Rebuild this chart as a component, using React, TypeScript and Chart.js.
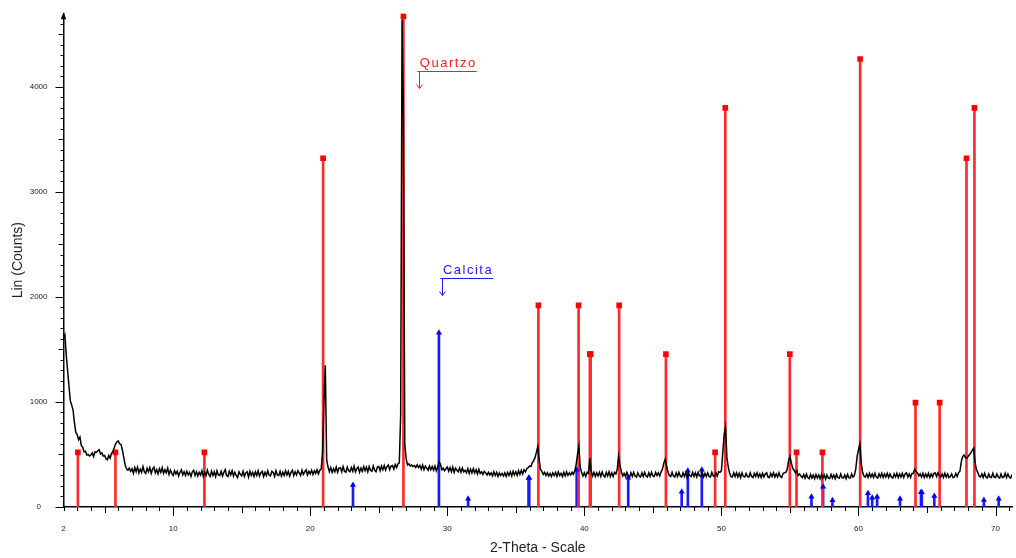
import { useEffect, useRef } from 'react';
import { Chart, registerables } from 'chart.js';

Chart.register(...registerables);

const scanStart = 2.0;
const scanStep = 0.1;

const counts02 = [
  1610, 1640, 1450, 1300, 1150, 1010, 970, 920, 800, 710,
  690, 640, 665, 585, 570, 525, 530, 495, 500, 485,
  495, 515, 480, 525, 520, 535, 545, 505, 515, 485,
  490, 460, 450, 490, 465, 510, 525, 565, 600, 620,
  630, 600, 595, 540, 470, 400, 365, 350, 370, 340,
  365, 320, 375, 335, 380, 325, 360, 330, 385, 335,
  320, 370, 335, 375, 320, 360, 380, 325, 355, 315,
  365, 330, 375, 320, 355, 325, 370, 310, 350, 320,
];
const counts10 = [
  300, 345, 315, 340, 295, 330, 355, 305, 335, 300,
  340, 305, 330, 290, 335, 350, 300, 335, 295, 330,
  305, 345, 290, 330, 300, 350, 310, 290, 340, 300,
  335, 290, 345, 305, 300, 340, 295, 330, 355, 300,
  290, 340, 305, 345, 295, 330, 300, 280, 335, 310,
  295, 340, 290, 325, 335, 285, 340, 300, 330, 290,
  335, 300, 345, 295, 325, 340, 290, 330, 300, 345,
  305, 295, 340, 330, 290, 345, 305, 300, 340, 295,
  330, 300, 345, 305, 340, 295, 330, 350, 300, 335,
  305, 345, 325, 300, 350, 310, 335, 355, 305, 340,
];
const counts20 = [
  315, 350, 310, 345, 320, 355, 315, 350, 360, 520,
  1000, 1350, 450, 380, 335, 375, 330, 365, 335, 380,
  330, 370, 375, 335, 385, 340, 330, 380, 345, 335,
  375, 340, 390, 335, 365, 380, 330, 370, 340, 385,
  345, 380, 335, 385, 350, 340, 390, 350, 335, 380,
  385, 345, 390, 355, 395, 350, 385, 400, 355, 390,
  395, 360, 405, 375, 410, 420, 880, 4640, 3700, 600,
  460, 400, 410, 390, 400, 385, 395, 375, 400, 375,
  395, 360, 400, 355, 390, 370, 350, 390, 355, 385,
  350, 390, 345, 380, 430, 410, 355, 370, 345, 365,
];
const counts30 = [
  380, 340, 375, 335, 380, 330, 370, 350, 335, 370,
  330, 370, 335, 350, 325, 365, 320, 360, 325, 365,
  325, 355, 315, 360, 320, 335, 310, 340, 325, 305,
  330, 305, 325, 295, 335, 300, 330, 290, 325, 300,
  320, 295, 325, 290, 330, 300, 335, 295, 340, 305,
  335, 300, 345, 310, 350, 315, 355, 335, 365, 375,
  390, 385, 420, 440, 470, 520, 575, 450, 360, 340,
  310, 330, 300, 325, 295, 320, 290, 325, 300, 330,
  290, 335, 300, 320, 290, 330, 295, 335, 300, 325,
  305, 330, 310, 345, 400, 500, 575, 380, 330, 295,
];
const counts40 = [
  325, 290, 330, 320, 465, 340, 295, 330, 290, 325,
  295, 330, 290, 335, 300, 285, 330, 295, 335, 290,
  325, 290, 330, 315, 360, 485, 400, 335, 295, 320,
  290, 330, 295, 285, 325, 290, 330, 295, 285, 325,
  295, 285, 325, 290, 330, 295, 285, 325, 290, 330,
  295, 290, 330, 300, 325, 295, 335, 360, 420, 455,
  390, 335, 300, 290, 330, 295, 285, 325, 290, 330,
  295, 285, 325, 290, 330, 280, 320, 300, 290, 330,
  290, 325, 285, 330, 295, 290, 325, 285, 320, 290,
  325, 290, 285, 330, 295, 290, 325, 295, 335, 330,
];
const counts50 = [
  345, 520, 690, 765, 470, 380, 320, 290, 285, 325,
  290, 325, 285, 320, 280, 325, 290, 285, 320, 290,
  285, 325, 290, 280, 320, 290, 325, 285, 315, 280,
  320, 285, 315, 325, 285, 280, 320, 290, 325, 285,
  315, 285, 325, 290, 280, 320, 325, 330, 360, 440,
  480, 420, 370, 350, 325, 345, 300, 315, 295, 280,
  310, 275, 315, 280, 270, 310, 275, 305, 270, 310,
  275, 305, 270, 310, 275, 305, 265, 305, 275, 270,
  310, 275, 305, 270, 310, 280, 275, 315, 280, 275,
  305, 270, 310, 280, 275, 315, 285, 300, 360, 480,
];
const counts60 = [
  545, 600, 420, 330, 295, 285, 315, 280, 320, 285,
  315, 280, 320, 285, 275, 315, 285, 320, 280, 315,
  285, 320, 280, 315, 285, 275, 315, 285, 320, 280,
  315, 285, 320, 280, 315, 325, 285, 315, 280, 320,
  320, 360, 340, 325, 295, 315, 285, 320, 280, 315,
  285, 320, 280, 315, 285, 320, 325, 290, 325, 300,
  285, 315, 280, 320, 285, 315, 280, 290, 315, 280,
  285, 320, 290, 325, 340, 430, 480, 495, 470, 465,
  480, 500, 515, 540, 560, 430, 360, 330, 295, 285,
  315, 280, 320, 285, 275, 315, 285, 280, 320, 285,
];
const counts70 = [280, 315, 285, 275, 315, 280, 285, 320, 280, 315, 285, 275, 310];

// ---- Reference patterns (stick positions / intensities) ----
const quartzAngles = [3.05, 5.79, 12.28, 20.94, 26.8, 36.65, 39.58, 40.4, 40.46, 42.54, 45.95, 49.54, 50.28, 54.99, 55.48, 57.37, 60.12, 64.16, 65.92, 67.88, 68.46];
const quartzIntensity = [520, 520, 520, 3320, 4670, 1920, 1920, 1456, 1456, 1920, 1456, 520, 3800, 1456, 520, 520, 4265, 993, 993, 3320, 3800];

const calciteAngles = [23.12, 29.39, 31.52, 35.93, 35.98, 39.44, 43.2, 47.1, 47.55, 48.57, 56.57, 57.42, 58.1, 60.69, 61.0, 61.36, 63.03, 64.56, 64.62, 65.53, 69.15, 70.23];
const calciteIntensity = [209, 1660, 79, 276, 276, 355, 279, 146, 346, 355, 98, 193, 64, 130, 89, 98, 79, 140, 140, 105, 67, 79];

const xTickValues = [2, 10, 20, 30, 40, 50, 60, 70];
const yTickValues = [0, 1000, 2000, 3000, 4000];

const phaseLabels = [
  { text: 'Quartzo', x: 28.0, y: 4190, color: '#ff1a1a' },
  { text: 'Calcita', x: 29.68, y: 2218, color: '#1a1aff' },
];

const FONT = '"Liberation Sans", Arial, sans-serif';

const decorPlugin = {
  id: 'xrdDecor',
  afterDraw(chart: any) {
    const { ctx, chartArea } = chart;
    const xs = chart.scales.x;
    const ys = chart.scales.y;
    ctx.save();
    ctx.strokeStyle = '#000';
    ctx.lineWidth = 1;
    ctx.beginPath();
    for (let d = 2; d <= 71; d++) {
      const px = Math.round(xs.getPixelForValue(d)) + 0.5;
      const len = d % 10 === 0 ? 9 : d % 5 === 0 ? 6 : 4;
      ctx.moveTo(px, chartArea.bottom);
      ctx.lineTo(px, chartArea.bottom + len);
    }
    for (let v = 0; v <= 4600; v += 100) {
      const py = Math.round(ys.getPixelForValue(v)) + 0.5;
      const len = v % 1000 === 0 ? 8 : v % 500 === 0 ? 5 : 3;
      ctx.moveTo(chartArea.left, py);
      ctx.lineTo(chartArea.left - len, py);
    }
    ctx.stroke();

    // arrow head on top of y axis
    const ax = chartArea.left;
    const at = chartArea.top;
    ctx.fillStyle = '#000';
    ctx.beginPath();
    ctx.moveTo(ax, at - 1);
    ctx.lineTo(ax - 2.8, at + 6);
    ctx.lineTo(ax + 2.8, at + 6);
    ctx.closePath();
    ctx.fill();

    // phase labels with underline and down arrow
    ctx.font = `13px ${FONT}`;
    (ctx as any).letterSpacing = '1.5px';
    ctx.textBaseline = 'alphabetic';
    ctx.textAlign = 'left';
    for (const lab of phaseLabels) {
      const lx = xs.getPixelForValue(lab.x);
      const ly = ys.getPixelForValue(lab.y);
      ctx.fillStyle = lab.color;
      ctx.strokeStyle = lab.color;
      ctx.fillText(lab.text, lx, ly);
      const w = ctx.measureText(lab.text).width;
      const uy = Math.round(ly + 4) + 0.5;
      const vx = Math.round(lx - 1) + 0.5;
      ctx.lineWidth = 1;
      ctx.beginPath();
      ctx.moveTo(lx - 2.5, uy);
      ctx.lineTo(lx + w, uy);
      ctx.moveTo(vx, uy);
      ctx.lineTo(vx, uy + 17);
      ctx.moveTo(vx - 3, uy + 13);
      ctx.lineTo(vx, uy + 17);
      ctx.lineTo(vx + 3, uy + 13);
      ctx.stroke();
    }
    ctx.restore();
  },
};

export default function App() {
  const canvasRef = useRef<HTMLCanvasElement | null>(null);

  useEffect(() => {
    const canvas = canvasRef.current;
    if (!canvas) return;
    const counts = [...counts02, ...counts10, ...counts20, ...counts30, ...counts40, ...counts50, ...counts60, ...counts70];
    const profile = counts.map((c, i) => ({ x: Math.round((scanStart + i * scanStep) * 100) / 100, y: c }));
    const quartz = quartzAngles.map((a, i) => ({ x: a, y: quartzIntensity[i] }));
    const calcite = calciteAngles.map((a, i) => ({ x: a, y: calciteIntensity[i] }));

    const chart = new Chart(canvas, {
      type: 'line',
      data: {
        datasets: [
          {
            type: 'line',
            label: 'Amostra',
            data: profile,
            borderColor: '#000',
            borderWidth: 1.5,
            pointRadius: 0,
            tension: 0,
            order: 0,
          } as any,
          {
            type: 'bar',
            label: 'Quartzo',
            data: quartz,
            backgroundColor: '#ff2a2a',
            barThickness: 2,
            grouped: false,
            order: 3,
          } as any,
          {
            type: 'bar',
            label: 'Calcita',
            data: calcite,
            backgroundColor: '#1a1aff',
            barThickness: 2,
            grouped: false,
            order: 3,
          } as any,
          {
            type: 'line',
            label: 'Quartzo marker',
            data: quartz,
            showLine: false,
            pointStyle: 'rect',
            pointRadius: 4,
            pointBackgroundColor: '#ff0000',
            pointBorderWidth: 0,
            order: 2,
          } as any,
          {
            type: 'line',
            label: 'Calcita marker',
            data: calcite,
            showLine: false,
            pointStyle: 'triangle',
            pointRadius: 3.5,
            pointBackgroundColor: '#0000ff',
            pointBorderWidth: 0,
            order: 2,
          } as any,
        ],
      },
      options: {
        animation: false,
        responsive: true,
        maintainAspectRatio: false,
        layout: { padding: { top: 13.3, right: 0, left: 0, bottom: 0 } },
        plugins: {
          legend: { display: false },
          tooltip: { enabled: false },
          title: { display: false },
        },
        scales: {
          x: {
            type: 'linear',
            min: 2,
            max: 71.2,
            offset: false,
            grid: { display: false, drawTicks: false, offset: false },
            border: { display: true, color: '#000', width: 1.5 },
            ticks: {
              font: { family: FONT, size: 8 },
              color: '#222',
              padding: 16.5,
              maxRotation: 0,
              autoSkip: false,
              callback: (v: any) => String(v),
            },
            afterBuildTicks: (s: any) => {
              s.ticks = xTickValues.map((v) => ({ value: v }));
            },
            afterFit: (s: any) => {
              s.height = 51;
              s.paddingLeft = 0;
              s.paddingRight = 0;
              s.paddingTop = 0;
              s.paddingBottom = 0;
            },
            title: {
              display: true,
              text: '2-Theta - Scale',
              font: { family: FONT, size: 14 },
              color: '#222',
              padding: { top: 0, bottom: 1.5 },
            },
          },
          y: {
            type: 'linear',
            min: 0,
            max: 4700,
            grid: { display: false, drawTicks: false },
            border: { display: true, color: '#000', width: 1.5 },
            ticks: {
              font: { family: FONT, size: 8 },
              color: '#222',
              padding: 16,
              crossAlign: 'center',
              callback: (v: any) => String(v),
            },
            afterBuildTicks: (s: any) => {
              s.ticks = yTickValues.map((v) => ({ value: v }));
            },
            afterFit: (s: any) => {
              s.width = 63.5;
              s.paddingLeft = 0;
              s.paddingRight = 0;
              s.paddingTop = 0;
              s.paddingBottom = 0;
            },
            title: {
              display: true,
              text: 'Lin (Counts)',
              font: { family: FONT, size: 14 },
              color: '#222',
              padding: { top: 9.6, bottom: 0 },
            },
          },
        },
      } as any,
      plugins: [decorPlugin],
    });
    return () => chart.destroy();
  }, []);

  return (
    <div style={{ position: 'fixed', left: 0, top: 0, width: '1016px', height: '558px', background: '#fff' }}>
      <canvas ref={canvasRef} />
    </div>
  );
}
